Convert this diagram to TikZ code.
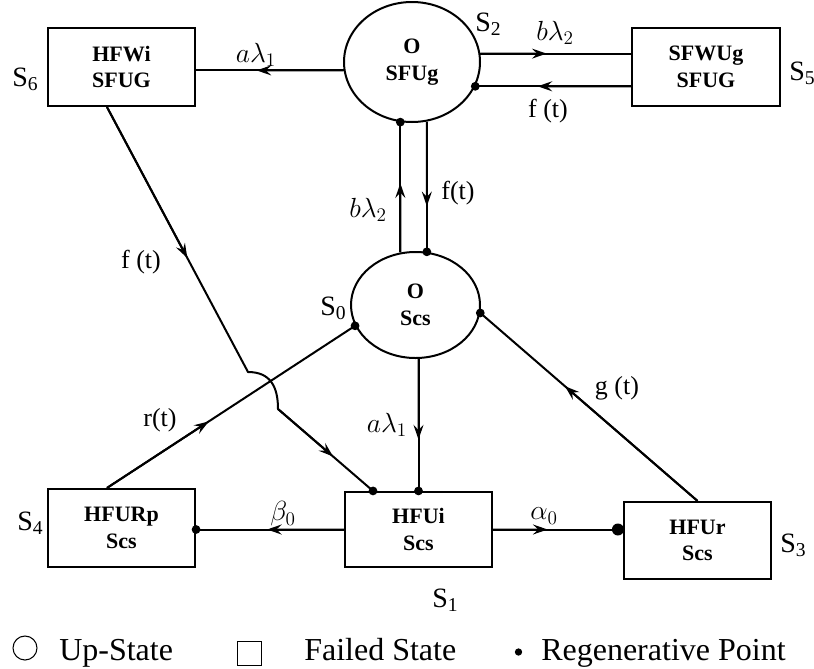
\documentclass[tikz,border=0pt]{standalone}
\usepackage{fontspec}
\setmainfont{Liberation Serif}
\usetikzlibrary{shapes.geometric,arrows.meta,calc}

\newcommand\boxfont{\fontsize{16.5}{20}\selectfont\bfseries}
\newcommand\statefont{\fontsize{21}{25}\selectfont}
\newcommand\edgefont{\fontsize{19.5}{23}\selectfont}
\newcommand\keyfont{\fontsize{24}{28}\selectfont}

\tikzset{
  x=0.75pt, y=-0.75pt,
  statebox/.style={draw, line width=1.6pt, minimum width=110.25pt,
    minimum height=58.5pt, inner sep=0pt, align=center, font=\boxfont},
  upstate/.style={draw, ellipse, line width=1.5pt, inner sep=0pt,
    align=center, font=\boxfont},
  link/.style={line width=1.5pt},
  flow/.style={line width=1.5pt, -{Stealth[length=11pt,width=7.5pt,inset=4pt]}},
  slabel/.style={anchor=base west, inner sep=0pt, font=\statefont},
  elabel/.style={inner sep=0pt, font=\edgefont},
  keytext/.style={anchor=base west, inner sep=0pt, font=\keyfont},
}

\begin{document}
\begin{tikzpicture}
\useasboundingbox (0,0) rectangle (814,668);

% states
\node[statebox] (s6) at (121.5,67) {HFWi\\SFUG};
\node[statebox, minimum width=111pt] (s5) at (706,67) {SFWUg\\SFUG};
\node[statebox] (s4) at (121.5,528) {HFURp\\Scs};
\node[statebox, minimum height=56.25pt] (s1) at (418.5,529.5) {HFUi\\Scs};
\node[statebox, minimum height=57.75pt] (s3) at (697.5,540.5) {HFUr\\Scs};
\node[upstate, minimum width=102pt, minimum height=90pt] (s2) at (412,62) {O\\SFUg};
\node[upstate, minimum width=96.75pt, minimum height=79.5pt] (s0) at (415.5,305) {O\\Scs};

% state names
\node[slabel] (n6) at (12,86) {S\textsubscript{6}};
\node[slabel] (n2) at (475,31) {S\textsubscript{2}};
\node[slabel] (n5) at (789,80) {S\textsubscript{5}};
\node[slabel] (n0) at (320,315) {S\textsubscript{0}};
\node[slabel] (n4) at (17,530) {S\textsubscript{4}};
\node[slabel] (n1) at (432,607) {S\textsubscript{1}};
\node[slabel] (n3) at (780,552) {S\textsubscript{3}};

% end points of the transitions
\coordinate (a26) at (s2.187.6);
\coordinate (b26) at (s2.187.6 -| s6.east);
\coordinate (a25) at (s2.7.6);
\coordinate (b25) at (s2.7.6 -| s5.west);
\coordinate (a52) at (s2.-21.1 -| s5.west);
\coordinate (b52) at (s2.-21.1);
\coordinate (a02) at (s2.259.5 |- s0.105.7);
\coordinate (b02) at (s2.259.5);
\coordinate (a20) at (s2.-76.6);
\coordinate (b20) at (s2.-76.6 |- s0.78.6);
\coordinate (a01) at (s1.north |- s0.south);
\coordinate (b01) at (s1.north);
\coordinate (a14) at (s1.west);
\coordinate (b14) at (s1.west -| s4.east);
\coordinate (a13) at (s1.east);
\coordinate (b13) at (s1.east -| s3.west);
\coordinate (a30) at (s3.north);
\coordinate (b30) at (s0.-7);
\coordinate (a40) at ($(s4.north)+(-14.5,0)$);
\coordinate (b40) at (s0.199);
\coordinate (a61) at ($(s6.south)+(-14.5,0)$);
\coordinate (b61) at ($(s1.north)+(-45.5,0)$);
\coordinate (j1) at (248,372);
\coordinate (j2) at (278,409);

% transition lines
\draw[link] (a26) -- (b26);
\draw[link] (a25) -- (b25);
\draw[link] (a52) -- (b52);
\draw[link] (a02) -- (b02);
\draw[link] (a20) -- (b20);
\draw[link] (a01) -- (b01);
\draw[link] (a14) -- (b14);
\draw[link] (a13) -- (b13);
\draw[link] (a30) -- (b30);
\draw[link] (a40) -- (b40);
% S6 -> S1 hops over the S4 -> S0 line
\draw[link] (a61) -- (j1) to[out=0, in=90, looseness=1.2] (j2) -- (b61);

% direction marks
\draw[flow] (a26) -- ($(a26)!0.59!(b26)$);
\draw[flow] (a25) -- ($(a25)!0.44!(b25)$);
\draw[flow] (a52) -- ($(a52)!0.60!(b52)$);
\draw[flow] (a02) -- ($(a02)!0.53!(b02)$);
\draw[flow] (a20) -- ($(a20)!0.65!(b20)$);
\draw[flow] (a01) -- ($(a01)!0.61!(b01)$);
\draw[flow] (a14) -- ($(a14)!0.52!(b14)$);
\draw[flow] (a13) -- ($(a13)!0.42!(b13)$);
\draw[flow] (a30) -- ($(a30)!0.61!(b30)$);
\draw[flow] (a40) -- ($(a40)!0.41!(b40)$);
\draw[flow] (a61) -- ($(a61)!0.57!(j1)$);
\draw[flow] (j2) -- ($(j2)!0.58!(b61)$);

% regeneration points
\fill (b52) circle[radius=3.3pt];
\fill (b02) circle[radius=3.3pt];
\fill (b20) circle[radius=3.3pt];
\fill (b01) circle[radius=3.3pt];
\fill (b14) circle[radius=3.3pt];
\fill ($(b13)+(-5,0)$) circle[radius=4.5pt];
\fill (b30) circle[radius=3.3pt];
\fill (b40) circle[radius=3.3pt];
\fill (b61) circle[radius=3.3pt];

% transition rates
\node[elabel] (e1) at (256,55) {$a\lambda_1$};
\node[elabel] (e2) at (555,33) {$b\lambda_2$};
\node[elabel] (e3) at (548,111) {f (t)};
\node[elabel] (e4) at (368,210) {$b\lambda_2$};
\node[elabel] (e5) at (458,193) {f(t)};
\node[elabel] (e6) at (141,262) {f (t)};
\node[elabel] (e7) at (160,420) {r(t)};
\node[elabel] (e8) at (387,425) {$a\lambda_1$};
\node[elabel] (e9) at (283,514) {$\beta_0$};
\node[elabel] (e10) at (544,516) {$\alpha_0$};
\node[elabel] (e11) at (617,388) {g (t)};

% key
\node[draw, circle, line width=0.8pt, minimum size=18pt, inner sep=0pt] (kup) at (25,648) {};
\node[keytext] (tup) at (59,660) {Up-State};
\node[draw, line width=0.9pt, minimum width=18pt, minimum height=17.5pt, inner sep=0pt] (kfail) at (249.5,653.5) {};
\node[keytext] (tfail) at (304,660) {Failed State};
\node[circle, fill, minimum size=5.5pt, inner sep=0pt] (kreg) at (518.5,652) {};
\node[keytext] (treg) at (541,660) {Regenerative Point};
\end{tikzpicture}
\end{document}
